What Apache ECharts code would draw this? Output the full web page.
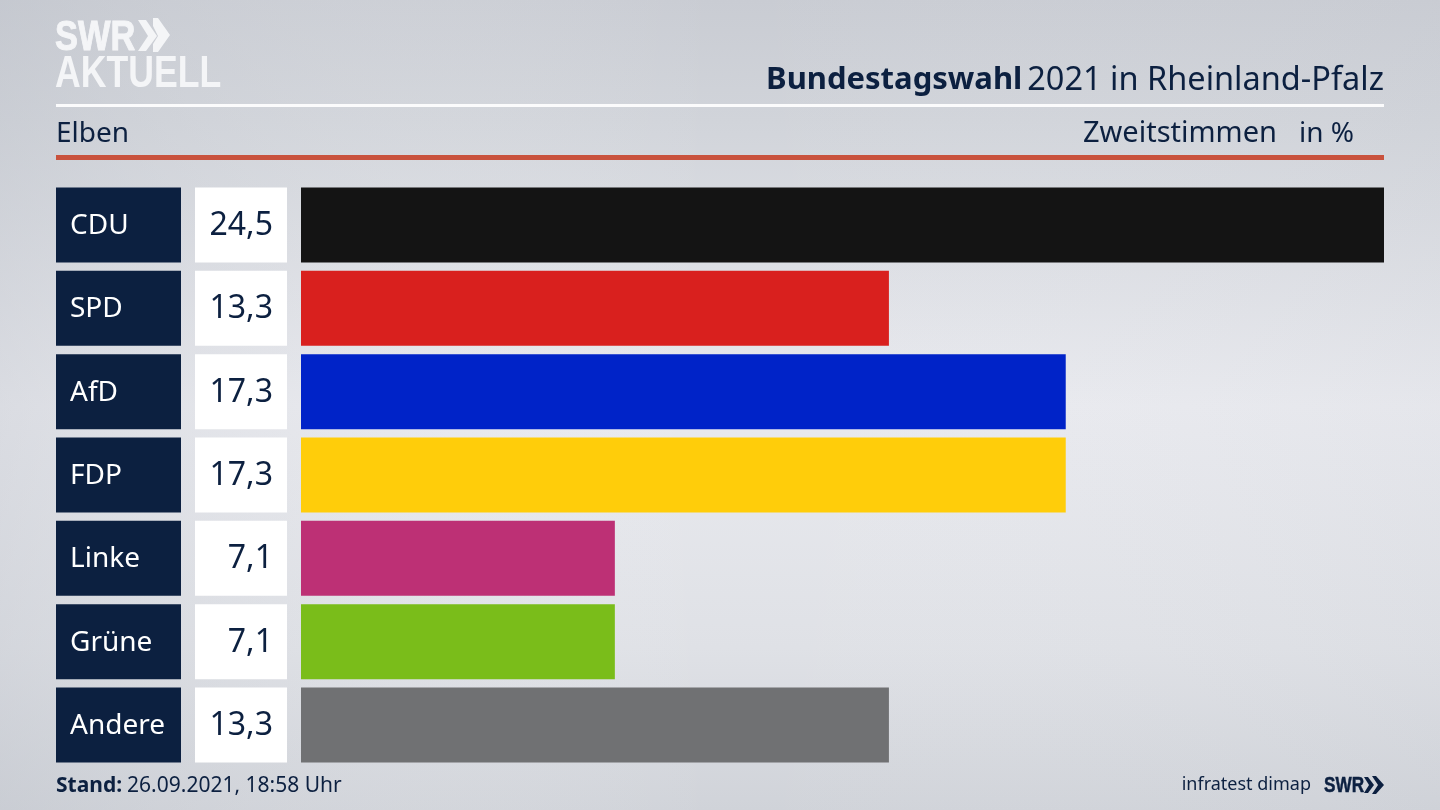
<!DOCTYPE html>
<html><head><meta charset="utf-8">
<style>html,body{margin:0;padding:0;background:#d8dae0}#c{width:1440px;height:810px}</style>
<script src="https://cdn.jsdelivr.net/npm/echarts@6/dist/echarts.min.js"></script>
</head><body><div id="c"></div>
<script>
const parties = ['CDU','SPD','AfD','FDP','Linke','Grüne','Andere'];
const shares = [24.5,13.3,17.3,17.3,7.1,7.1,13.3];
const colors = ['#141414','#d9201e','#0023c8','#ffcd0a','#bd3075','#7abd1a','#707173'];
const navy = '#0c2040';
const white = '#f4f5f7';
const font = '"Noto Sans"';
const chart = echarts.init(document.getElementById('c'));
const fmt = v => v.toFixed(1).replace('.',',');
chart.setOption({
  animation:false,
  backgroundColor:'transparent',
  graphic:[
    {type:'rect',z:-10,silent:true,shape:{x:0,y:0,width:1440,height:810},style:{fill:{type:'linear',x:0,y:0,x2:0,y2:1,colorStops:[
      {offset:0,color:'#c9ccd3'},{offset:0.15,color:'#d1d4da'},{offset:0.5,color:'#e9eaef'},{offset:0.8,color:'#dfe1e6'},{offset:1,color:'#d0d3d9'}]}}},
    {type:'rect',z:-9,silent:true,shape:{x:0,y:0,width:1440,height:810},style:{fill:{type:'linear',x:0,y:0,x2:1,y2:0,colorStops:[
      {offset:0,color:'rgba(190,194,202,0.35)'},{offset:0.5,color:'rgba(255,255,255,0)'},{offset:1,color:'rgba(200,203,210,0.12)'}]}}},
    {type:'rect',silent:true,shape:{x:56,y:104,width:1328,height:3},style:{fill:'#fbfbfc'}},
    {type:'rect',silent:true,shape:{x:56,y:155,width:1328,height:5},style:{fill:'#c9523d'}},
    {type:'text',silent:true,x:55,y:38,scaleX:0.8,style:{text:'SWR',fill:white,stroke:white,lineWidth:1,font:'bold 43px "Liberation Sans"',verticalAlign:'middle',textAlign:'left'}},
    {type:'polygon',silent:true,shape:{points:[[138,20],[146,20],[157,36],[146,51],[138,51],[148,36]]},style:{fill:white}},
    {type:'polygon',silent:true,shape:{points:[[153,18],[158,18],[170,35],[158,52],[153,52],[153,44],[158,36],[153,26]]},style:{fill:white}},
    {type:'text',silent:true,x:55,y:75,scaleX:0.81,style:{text:'AKTUELL',fill:white,font:'bold 44px "Liberation Sans"',verticalAlign:'middle',textAlign:'left'}},
    {type:'text',silent:true,x:1324,y:786,scaleX:0.78,style:{text:'SWR',fill:navy,stroke:navy,lineWidth:0.5,font:'bold 22px "Liberation Sans"',verticalAlign:'middle',textAlign:'left'}},
    {type:'polygon',silent:true,shape:{points:[[1364,777],[1368,777],[1374,785],[1368,793],[1364,793],[1369,785]]},style:{fill:navy}},
    {type:'polygon',silent:true,shape:{points:[[1372,776],[1376,776],[1384,785],[1376,794],[1372,794],[1378,785]]},style:{fill:navy}}
  ],
  title:[
    {right:56,top:64,padding:0,text:'{b|Bundestagswahl} {r|2021 in Rheinland-Pfalz}',
      textStyle:{rich:{b:{fontFamily:font,fontWeight:'bold',fontSize:31,color:navy},r:{fontFamily:font,fontWeight:'normal',fontSize:32.5,color:navy}}}},
    {left:56,top:120,padding:0,text:'Elben',textStyle:{fontFamily:font,fontWeight:'normal',fontSize:28,color:navy}},
    {right:163,top:119,padding:0,text:'Zweitstimmen',textStyle:{fontFamily:font,fontWeight:'normal',fontSize:29,color:navy}},
    {right:86,top:120,padding:0,text:'in %',textStyle:{fontFamily:font,fontWeight:'normal',fontSize:28,color:navy}},
    {left:56,top:776,padding:0,text:'{b|Stand:} {r|26.09.2021, 18:58 Uhr}',
      textStyle:{rich:{b:{fontFamily:font,fontWeight:'bold',fontSize:21,color:navy},r:{fontFamily:font,fontWeight:'normal',fontSize:21,color:navy}}}},
    {right:129,top:776,padding:0,text:'infratest dimap',textStyle:{fontFamily:font,fontWeight:'normal',fontSize:18,color:navy}}
  ],
  grid:{left:301,width:1083,top:183.33,height:583.33,containLabel:false},
  xAxis:{type:'value',min:0,max:24.5,show:false},
  yAxis:{type:'category',inverse:true,data:parties,
    axisLine:{show:false},axisTick:{show:false},splitLine:{show:false},
    axisLabel:{margin:14,interval:0,align:'right',
      formatter:(name,i)=>`{n|${name}}{g|}{v|${fmt(shares[i])}}`,
      rich:{
        n:{width:111,height:73,lineHeight:73,padding:[2,0,0,14],backgroundColor:navy,color:'#fff',fontFamily:font,fontSize:28,align:'left',verticalAlign:'middle'},
        g:{width:14,height:75},
        v:{width:78,height:73,lineHeight:73,padding:[2,14,0,0],backgroundColor:'#fff',color:navy,fontFamily:font,fontSize:32,align:'right',verticalAlign:'middle'}
      }}},
  series:[{type:'bar',barWidth:75,silent:true,
    data:shares.map((v,i)=>({value:v,itemStyle:{color:colors[i]}}))}]
});
</script></body></html>
